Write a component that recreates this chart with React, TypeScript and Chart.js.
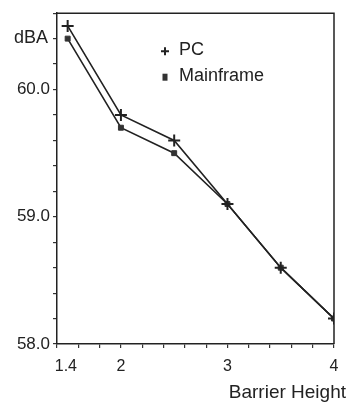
import React, { useEffect, useRef } from "react";
import { Chart, registerables } from "chart.js";

Chart.register(...registerables);

const barrierHeights = [1.5, 2, 2.5, 3, 3.5, 4];
const pcValues = [60.5, 59.8, 59.6, 59.1, 58.6, 58.2];
const mainframeValues = [60.4, 59.7, 59.5, 59.1, 58.6, 58.2];
const seriesNames = ["PC", "Mainframe"];
const yAxisTitle = "dBA";
const xAxisTitle = "Barrier Height";
const xMin = 1.4;
const xMax = 4;
const yMin = 58;
const yMax = 60.6;

const INK = "#222";
const FONT = "'Liberation Sans', Arial, Helvetica, sans-serif";

const decorPlugin = {
  id: "decor",
  afterDraw(chart: any) {
    const { ctx, chartArea } = chart;
    const { left, right, top, bottom } = chartArea;
    ctx.save();
    // top and right frame lines
    ctx.strokeStyle = INK;
    ctx.lineWidth = 1.5;
    ctx.beginPath();
    ctx.moveTo(left, top);
    ctx.lineTo(right, top);
    ctx.lineTo(right, bottom);
    ctx.stroke();

    ctx.fillStyle = INK;
    // y axis title
    ctx.font = `18px ${FONT}`;
    ctx.textAlign = "right";
    ctx.textBaseline = "middle";
    ctx.fillText(yAxisTitle, left - 9, top + 25);

    // legend
    const lx = left + 108;
    const ly1 = top + 38;
    const ly2 = top + 64;
    ctx.lineWidth = 2;
    ctx.beginPath();
    ctx.moveTo(lx - 4, ly1);
    ctx.lineTo(lx + 4, ly1);
    ctx.moveTo(lx, ly1 - 4);
    ctx.lineTo(lx, ly1 + 4);
    ctx.stroke();
    ctx.fillStyle = "#333";
    ctx.fillRect(lx - 2.5, ly2 - 3.5, 5, 7);
    ctx.fillStyle = INK;
    ctx.font = `18px ${FONT}`;
    ctx.textAlign = "left";
    ctx.textBaseline = "middle";
    ctx.fillText(seriesNames[0], lx + 14, ly1 - 1);
    ctx.fillText(seriesNames[1], lx + 14, ly2 - 1);

    // x axis title
    ctx.font = `19px ${FONT}`;
    ctx.textAlign = "right";
    ctx.textBaseline = "alphabetic";
    ctx.fillText(xAxisTitle, right + 12, bottom + 54);
    ctx.restore();
  },
};

export default function App() {
  const canvasRef = useRef<HTMLCanvasElement | null>(null);

  useEffect(() => {
    if (!canvasRef.current) return;
    const pcData = barrierHeights.map((x, i) => ({ x, y: pcValues[i] }));
    const mfData = barrierHeights.map((x, i) => ({ x, y: mainframeValues[i] }));
    const chart = new Chart(canvasRef.current, {
      type: "line",
      data: {
        datasets: [
          {
            label: seriesNames[0],
            data: pcData,
            borderColor: INK,
            borderWidth: 1.6,
            pointStyle: "cross",
            pointRadius: 6,
            pointBorderWidth: 2,
            pointBorderColor: INK,
            pointBackgroundColor: INK,
            fill: false,
            tension: 0,
          },
          {
            label: seriesNames[1],
            data: mfData,
            borderColor: INK,
            borderWidth: 1.6,
            pointStyle: "rect",
            pointRadius: 3.5,
            pointBorderWidth: 1,
            pointBorderColor: "#333",
            pointBackgroundColor: "#333",
            fill: false,
            tension: 0,
          },
        ],
      },
      options: {
        animation: false,
        responsive: false,
        devicePixelRatio: 1,
        layout: { padding: { top: 9, right: 19, left: 0, bottom: 0 } },
        plugins: {
          legend: { display: false },
          tooltip: { enabled: false },
        },
        scales: {
          x: {
            type: "linear",
            min: xMin,
            max: xMax,
            afterFit(scale: any) {
              scale.height = 58;
            },
            ticks: {
              stepSize: 0.2,
              autoSkip: false,
              maxRotation: 0,
              padding: 9,
              color: INK,
              font: { family: FONT, size: 16 },
              callback: (v: any) => {
                const n = Number(v);
                if (Math.abs(n - xMin) < 1e-6) return "    " + xMin.toFixed(1);
                if (Math.abs(n - Math.round(n)) < 1e-6) return String(Math.round(n));
                return "";
              },
            },
            grid: {
              display: true,
              drawOnChartArea: false,
              drawTicks: true,
              tickLength: 4,
              color: "#333",
              lineWidth: 1.2,
            },
            border: { display: true, color: INK, width: 1.5 },
          },
          y: {
            type: "linear",
            min: yMin,
            max: yMax,
            afterFit(scale: any) {
              scale.width = 57;
            },
            ticks: {
              stepSize: 0.2,
              autoSkip: false,
              padding: 3,
              color: INK,
              font: { family: FONT, size: 17 },
              callback: (v: any) => {
                const n = Number(v);
                if (Math.abs(n - Math.round(n)) < 1e-6) return n.toFixed(1);
                return "";
              },
            },
            grid: {
              display: true,
              drawOnChartArea: false,
              drawTicks: true,
              tickLength: 4,
              color: "#333",
              lineWidth: 1.2,
            },
            border: { display: true, color: INK, width: 1.5 },
          },
        },
      },
      plugins: [decorPlugin],
    });
    return () => chart.destroy();
  }, []);

  return (
    <div style={{ position: "fixed", left: 0, top: 0, width: 353, height: 402, background: "#fff" }}>
      <canvas ref={canvasRef} width={353} height={402} style={{ display: "block" }} />
    </div>
  );
}
